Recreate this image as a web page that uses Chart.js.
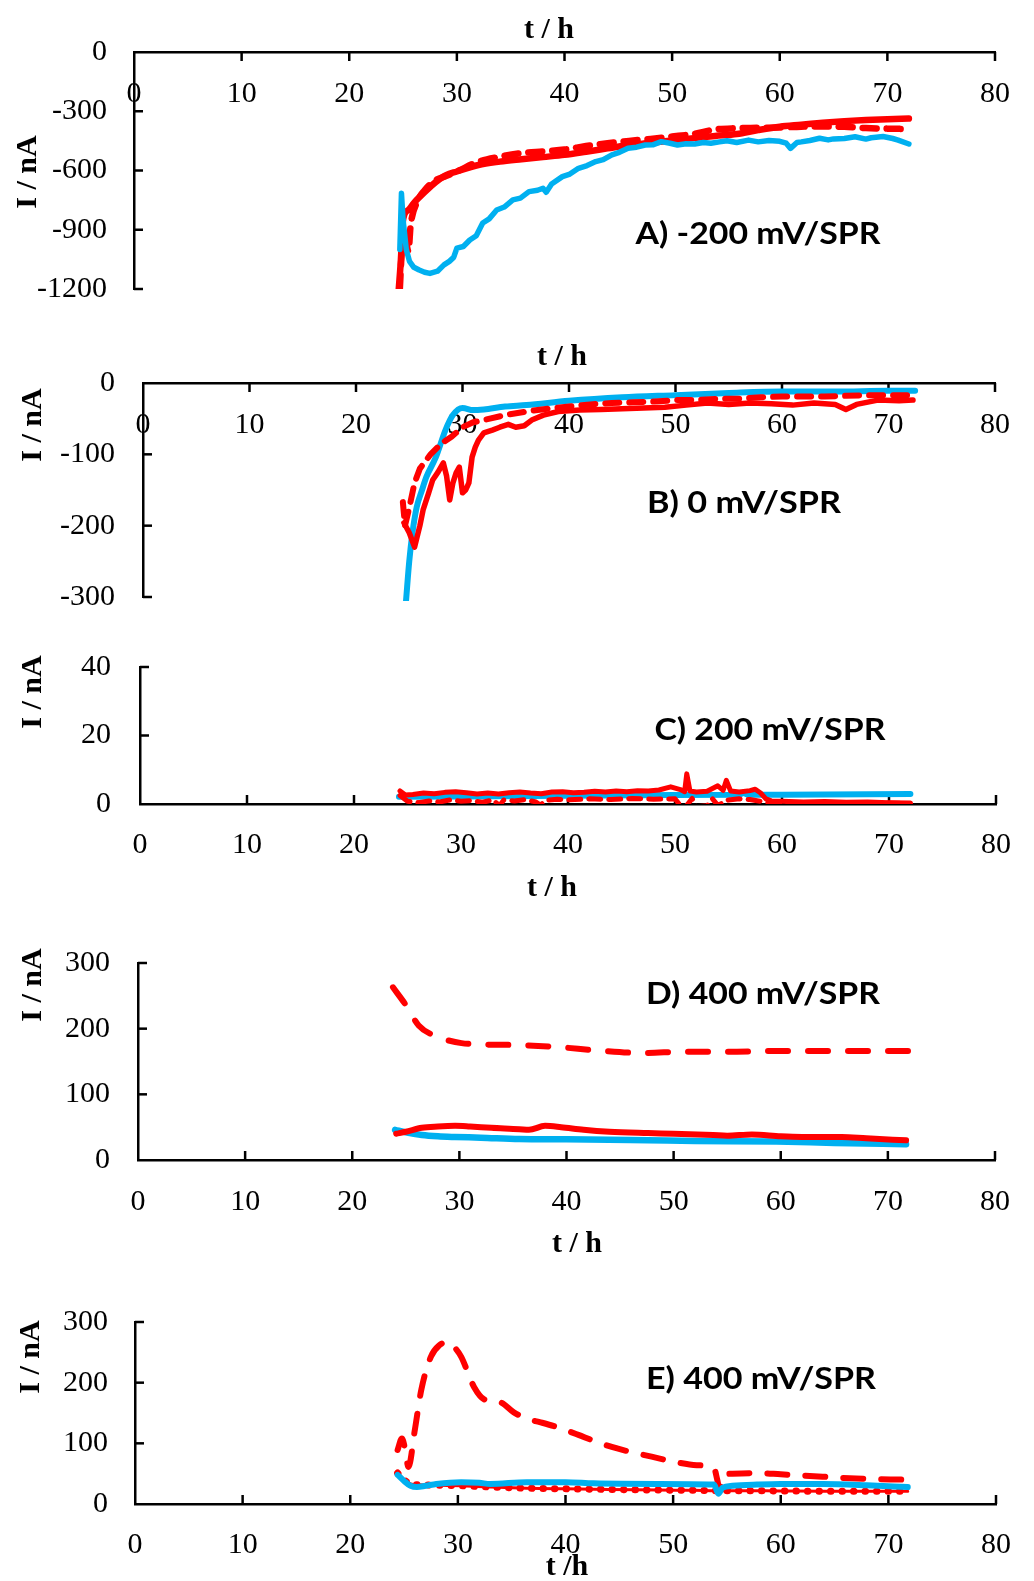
<!DOCTYPE html>
<html><head><meta charset="utf-8">
<script src="https://cdn.jsdelivr.net/npm/chart.js@4.4.1/dist/chart.umd.min.js"></script>
<style>
html,body{margin:0;padding:0;background:#fff;}
body{width:1034px;height:1581px;position:relative;overflow:hidden;}
canvas{position:absolute;left:0;}
</style></head><body>
<canvas id="cA" width="1034" height="345" style="top:0px"></canvas>
<canvas id="cB" width="1034" height="340" style="top:320px"></canvas>
<canvas id="cC" width="1034" height="280" style="top:620px"></canvas>
<canvas id="cD" width="1034" height="360" style="top:900px"></canvas>
<canvas id="cE" width="1034" height="321" style="top:1260px"></canvas>
<script>
// ---------- shared axis ----------
const xTicks = [0, 10, 20, 30, 40, 50, 60, 70, 80];

// ---------- Panel A: -200 mV/SPR ----------
const A_yTicks = [-1200, -900, -600, -300, 0];
const A_redSolid_t = [24.6,24.8,25.0,25.5,26,27,28,29,30,32,34,36,38,40,42,44,46,48,50,52,54,56,58,60,62,64,66,68,70,72];
const A_redSolid_i = [-1200,-1050,-850,-800,-765,-710,-660,-623,-605,-572,-555,-543,-532,-521,-505,-488,-471,-460,-448,-436,-425,-415,-395,-378,-368,-358,-350,-344,-340,-337];
const A_redDash_t = [24.7,24.9,25.2,25.5,25.7,26.3,27,28,29,30,32,34,36,38,40,42,44,46,48,50,52,54,56,58,60,62,64,66,68,70,72];
const A_redDash_i = [-1200,-1000,-950,-1010,-880,-760,-700,-650,-628,-605,-555,-530,-512,-503,-494,-476,-462,-450,-440,-428,-415,-392,-386,-384,-382,-378,-377,-379,-385,-388,-390];
const A_blue_t = [24.7,24.85,25.0,25.3,25.6,26,26.5,27,27.5,28.2,28.8,29.3,29.7,30,30.6,31.2,31.8,32.4,33,33.7,34.4,35.2,35.9,36.7,37.5,38,38.3,38.8,39.8,40.5,41.3,42.1,42.9,43.6,44.4,45.1,45.9,46.7,47.5,48.2,49,49.8,50.5,51.3,52.1,52.9,53.6,54.4,55.1,56,57.1,58,59,60,60.6,61,61.6,62,62.8,63.7,64.5,65,66,67,68,68.5,69.6,70.5,71,72];
const A_blue_i = [-1000,-715,-850,-1000,-1060,-1090,-1104,-1115,-1121,-1110,-1078,-1060,-1040,-993,-985,-952,-930,-866,-845,-800,-785,-749,-740,-707,-700,-690,-710,-668,-631,-618,-589,-575,-555,-545,-521,-508,-487,-482,-471,-470,-454,-462,-471,-465,-466,-458,-462,-455,-449,-458,-446,-455,-448,-452,-462,-488,-458,-455,-448,-437,-445,-440,-438,-429,-441,-434,-428,-438,-446,-466];

// ---------- Panel B: 0 mV/SPR ----------
const B_yTicks = [-300, -200, -100, 0];
const B_redSolid_t = [24.5,25,25.5,26,26.3,26.8,27.2,27.7,28.2,28.5,28.8,29.1,29.4,29.7,30,30.3,30.6,30.9,31.2,31.5,32,32.8,33.5,34.3,35,35.8,36.5,37.6,39,41,43,45,47,49,51,53,55,57,59,61,63,65,66,67,69,71,72.3];
const B_redSolid_i = [-196,-210,-230,-200,-178,-155,-136,-125,-112,-130,-164,-140,-126,-118,-154,-150,-140,-104,-90,-80,-70,-66,-62,-58,-62,-60,-52,-45,-40,-38,-37,-36,-35,-34,-31,-28,-30,-28,-29,-31,-28,-30,-37,-30,-24,-25,-24];
const B_redDash_t = [24.4,24.6,25.0,25.5,26,27,28,29,30,31,32,34,36,38,40,42,44,46,48,50,52,54,56,58,60,62,64,66,68,70,72.3];
const B_redDash_i = [-167,-200,-175,-140,-120,-100,-85,-75,-62,-55,-52,-45,-40,-36,-33,-30,-28,-27,-26,-24,-24,-22,-22,-20,-19,-19,-19,-18,-17,-17,-17];
const B_blue_t = [24.7,25.0,25.3,25.7,26.2,26.6,27.5,28.4,29.1,30,31,32,34,36,40,45,50,55,60,65,70,72.5];
const B_blue_i = [-305,-250,-210,-174,-150,-132,-104,-66,-45,-35,-38,-37,-33,-31,-25,-20,-17,-14,-12,-12,-11,-11];

// ---------- Panel C: 200 mV/SPR ----------
const C_yTicks = [0, 20, 40];
const C_redSolid_t = [24.3,24.8,25.5,26.5,27.5,28.5,29.5,30.5,31.5,32.5,33.5,34.5,35.5,36.5,37.5,38.5,39.5,40.5,41.5,42.5,43.5,44.5,45.5,46.5,47.5,48.5,49.6,50.5,50.9,51.1,51.4,52,53,54,54.5,54.8,55.2,56,57,57.5,58,58.5,59,60,62,64,66,68,70,72];
const C_redSolid_i = [3.8,2.6,2.8,3.2,3.0,3.4,3.6,3.3,2.9,3.2,2.9,3.3,3.5,3.2,3.0,3.5,3.6,3.3,3.4,3.7,3.5,3.8,3.6,3.9,3.8,4.1,5.0,4.2,3.6,8.8,3.8,3.5,3.7,5.3,4.0,6.9,3.8,3.5,3.9,4.3,3.2,1.5,0.9,0.8,0.6,0.7,0.5,0.6,0.4,0.3];
const C_redDash_t = [24.3,25,26,27,28,29,30,31,32,33,33.6,34,35,36,37,37.4,38,39,40,42,44,46,48,50,50.6,51,51.6,52,53,53.5,54,55,56,57,58,59,60,62,64,66,68,70,72];
const C_redDash_i = [2.5,0.8,0.4,0.9,0.6,1.2,0.8,1.0,0.5,1.2,-0.5,1.2,0.9,1.3,0.6,-0.3,1.1,1.4,1.2,1.5,1.3,1.6,1.4,1.5,-0.8,-0.8,1.6,-0.8,-0.5,1.5,-0.4,1.2,1.5,1.3,0.8,0.3,0.5,0.3,0.4,0.2,0.4,0.3,0.1];
const C_blue_t = [24.2,30,40,50,56,56.4,56.8,60,72];
const C_blue_i = [2.1,2.2,2.4,2.6,2.7,3.3,2.7,2.7,2.9];

// ---------- Panel D: 400 mV/SPR ----------
const D_yTicks = [0, 100, 200, 300];
const D_redDash_t = [23.8,25,26.2,27.7,29,30.2,32,35.6,39.2,42.8,47,51.2,55,60,65,70,72];
const D_redDash_i = [263,236,205,189,182,178,176,175,172,167,163,165,165,166,166,166,166];
const D_redSolid_t = [24.1,25,26.5,28,29.6,31,33,35.6,36.5,38,39.5,41.6,44,47.6,50,53.7,55,57.3,60,62,65.7,68,71.7];
const D_redSolid_i = [40,43,49,51,52,51,49,47,46,52,50,46,43,41,40,38,37,39,36,35,35,33,30];
const D_blue_t = [24,25,26.5,28,29.6,32,35.6,40,47.6,52,59.6,65,71.7];
const D_blue_i = [46,42,38,36,35,34,32,31.5,30,29,28,26,24];

// ---------- Panel E: 400 mV/SPR ----------
const E_yTicks = [0, 100, 200, 300];
const E_redDash_t = [24.4,24.8,25.1,25.4,26,26.6,27.5,28.3,29.1,29.7,30.3,31.5,32.5,33.9,35.2,36.5,37.6,39,41.2,42.5,44.3,46,48,50,52.2,53.8,54.1,54.3,54.7,55.5,57.8,60,63.9,67,71.8];
const E_redDash_i = [89,108,90,61,122,188,243,262,267,258,243,193,172,168,151,140,135,128,114,105,94,86,78,70,64,59,40,25,48,50,51,49,45,42,40];
const E_blue_t = [24.4,25,25.6,26.2,27,28,30.3,32,33,36.4,40,42.6,48.6,53.8,54.2,54.6,55.5,57.8,60,63.9,68,71.8];
const E_blue_i = [48,38,30,28,30,33,36,35,33,36,36,34,33,32,17,27,30,32,33,33,31,28];
const E_redDot_t = [24.4,25,25.4,26,28,30.3,33,36.4,40,44,48.6,52,54,56,60,64,68,71.8];
const E_redDot_i = [51,40,35,32,31,30,28,26,25,24,23,22.5,22,22,21.5,21,21,21];

// ---------- styling ----------
const RED = '#FF0000', BLUE = '#00B0F0';
Chart.defaults.font.family = "'Liberation Serif', 'Times New Roman', serif";
Chart.defaults.font.size = 30;
Chart.defaults.color = '#000';

function pts(t, v) { return t.map((x, i) => ({ x: x, y: v[i] })); }
function line(t, v, color, opts) {
  return Object.assign({
    data: pts(t, v), borderColor: color, backgroundColor: color, borderWidth: 6,
    pointRadius: 0, fill: false, tension: 0, borderCapStyle: 'round', borderJoinStyle: 'round'
  }, opts || {});
}

const panelPlugin = {
  id: 'panelDeco',
  beforeDatasetsDraw(chart, args, o) {
    const ctx = chart.ctx, xs = chart.scales.x, ys = chart.scales.y, a = chart.chartArea;
    ctx.save();
    ctx.strokeStyle = '#000'; ctx.lineWidth = 2.5;
    const xAxisY = o.xTop ? a.top : a.bottom;
    const dir = o.xTop ? 1 : -1;
    xs.ticks.forEach(tk => {
      if (tk.value === 0) return;
      const px = xs.getPixelForValue(tk.value);
      ctx.beginPath(); ctx.moveTo(px, xAxisY); ctx.lineTo(px, xAxisY + dir * 9); ctx.stroke();
    });
    ys.ticks.forEach(tk => {
      const py = ys.getPixelForValue(tk.value);
      if (Math.abs(py - xAxisY) < 1) return;
      ctx.beginPath(); ctx.moveTo(a.left, py); ctx.lineTo(a.left + 9, py); ctx.stroke();
    });
    ctx.restore();
  },
  afterDraw(chart, args, o) {
    const ctx = chart.ctx, off = o.top;
    ctx.save();
    ctx.fillStyle = '#000';
    ctx.font = "bold 30px 'Liberation Serif', serif";
    ctx.textAlign = 'center'; ctx.textBaseline = 'middle';
    ctx.fillText(o.xTitle, o.xTitlePos[0], o.xTitlePos[1] - off);
    ctx.save();
    ctx.translate(o.yTitlePos[0], o.yTitlePos[1] - off);
    ctx.rotate(-Math.PI / 2);
    ctx.fillText('I / nA', 0, 0);
    ctx.restore();
    ctx.font = "bold 31px Lato, 'Open Sans', sans-serif";
    const w = ctx.measureText(o.label).width;
    ctx.save();
    ctx.translate(o.labelPos[0], o.labelPos[1] - off);
    ctx.scale(o.labelW / w, 1);
    ctx.fillText(o.label, 0, 0);
    ctx.restore();
    ctx.restore();
  }
};

function makePanel(p) {
  const canvas = document.getElementById(p.id);
  const H = canvas.height;
  const xAxisH = p.xTop ? (p.area.t - p.top) : (p.top + H - p.area.b);
  new Chart(canvas, {
    type: 'line',
    data: { datasets: p.datasets },
    options: {
      responsive: false, animation: false, devicePixelRatio: 1,
      layout: { padding: {
        left: 0, right: 1034 - p.area.r,
        top: p.xTop ? 0 : (p.area.t - p.top),
        bottom: p.xTop ? (p.top + H - p.area.b) : 0 } },
      plugins: { legend: { display: false }, tooltip: { enabled: false },
        panelDeco: { top: p.top, xTop: p.xTop, xTitle: p.xTitle, xTitlePos: p.xTitlePos,
          yTitlePos: p.yTitlePos, label: p.label, labelPos: p.labelPos, labelW: p.labelW } },
      scales: {
        x: {
          type: 'linear', position: p.xTop ? 'top' : 'bottom', min: 0, max: 80,
          afterBuildTicks: s => { s.ticks = xTicks.map(v => ({ value: v })); },
          afterFit: s => { s.height = xAxisH; },
          grid: { display: false, drawTicks: false },
          border: { display: true, color: '#000', width: 2.5 },
          ticks: { mirror: !!p.xTop, padding: p.xPad, maxRotation: 0, autoSkip: false,
            callback: v => String(v) }
        },
        y: {
          type: 'linear', position: 'left', min: p.yTicks[0], max: p.yTicks[p.yTicks.length - 1],
          afterBuildTicks: s => { s.ticks = p.yTicks.map(v => ({ value: v })); },
          afterFit: s => { s.width = p.area.l; },
          grid: { display: false, drawTicks: false },
          border: { display: true, color: '#000', width: 2.5 },
          ticks: { padding: p.yPad, autoSkip: false, callback: v => String(v) }
        }
      }
    },
    plugins: [panelPlugin]
  });
}

makePanel({
  id: 'cA', top: 0, xTop: true, area: { l: 134, r: 1004, t: 52, b: 289 },
  yTicks: A_yTicks, xPad: 24, yPad: 27,
  xTitle: 't / h', xTitlePos: [549, 30], yTitlePos: [28, 172],
  label: 'A) -200 mV/SPR', labelPos: [758, 234], labelW: 245,
  datasets: [
    line(A_blue_t, A_blue_i, BLUE, { borderWidth: 5.5 }),
    line(A_redDash_t, A_redDash_i, RED, { borderWidth: 6.5, borderDash: [14, 10], tension: 0.3, cubicInterpolationMode: 'monotone' }),
    line(A_redSolid_t, A_redSolid_i, RED, { borderWidth: 6.5, tension: 0.3, cubicInterpolationMode: 'monotone' })
  ]
});

makePanel({
  id: 'cB', top: 320, xTop: true, area: { l: 143, r: 1015, t: 383, b: 597 },
  yTicks: B_yTicks, xPad: 24, yPad: 28,
  xTitle: 't / h', xTitlePos: [562, 357], yTitlePos: [33, 425],
  label: 'B) 0 mV/SPR', labelPos: [744, 503], labelW: 194,
  datasets: [
    line(B_redDash_t, B_redDash_i, RED, { borderDash: [14, 10] }),
    line(B_redSolid_t, B_redSolid_i, RED, { borderWidth: 5.5 }),
    line(B_blue_t, B_blue_i, BLUE, { borderWidth: 6, tension: 0.3, cubicInterpolationMode: 'monotone', clip: 4 })
  ]
});

makePanel({
  id: 'cC', top: 620, xTop: false, area: { l: 140, r: 1014, t: 664, b: 804 },
  yTicks: C_yTicks, xPad: 23, yPad: 29,
  xTitle: 't / h', xTitlePos: [552, 888], yTitlePos: [33, 692],
  label: 'C) 200 mV/SPR', labelPos: [770, 730], labelW: 231,
  datasets: [
    line(C_redDash_t, C_redDash_i, RED, { borderDash: [12, 8], borderWidth: 5 }),
    line(C_redSolid_t, C_redSolid_i, RED, { borderWidth: 5 }),
    line(C_blue_t, C_blue_i, BLUE, { borderWidth: 6 })
  ]
});

makePanel({
  id: 'cD', top: 900, xTop: false, area: { l: 138, r: 1014, t: 963, b: 1160 },
  yTicks: D_yTicks, xPad: 24, yPad: 28,
  xTitle: 't / h', xTitlePos: [577, 1244], yTitlePos: [33, 985],
  label: 'D) 400 mV/SPR', labelPos: [763, 994], labelW: 234,
  datasets: [
    line(D_redDash_t, D_redDash_i, RED, { borderDash: [20, 20], tension: 0.3, cubicInterpolationMode: 'monotone' }),
    line(D_redSolid_t, D_redSolid_i, RED, { tension: 0.3, cubicInterpolationMode: 'monotone' }),
    line(D_blue_t, D_blue_i, BLUE, { borderWidth: 6.5, tension: 0.3, cubicInterpolationMode: 'monotone' })
  ]
});

makePanel({
  id: 'cE', top: 1260, xTop: false, area: { l: 135, r: 999, t: 1322, b: 1504 },
  yTicks: E_yTicks, xPad: 23, yPad: 27,
  xTitle: 't /h', xTitlePos: [567, 1567], yTitlePos: [31, 1357],
  label: 'E) 400 mV/SPR', labelPos: [761, 1379], labelW: 230,
  datasets: [
    line(E_blue_t, E_blue_i, BLUE, { borderWidth: 6, tension: 0.3, cubicInterpolationMode: 'monotone' }),
    line(E_redDash_t, E_redDash_i, RED, { borderDash: [20, 18], tension: 0.3, cubicInterpolationMode: 'monotone' }),
    line(E_redDot_t, E_redDot_i, RED, { borderWidth: 3, tension: 0.3, cubicInterpolationMode: 'monotone' }),
    line(E_redDot_t, E_redDot_i, RED, { borderWidth: 7, borderDash: [0.5, 11], tension: 0.3, cubicInterpolationMode: 'monotone' })
  ]
});
</script>
</body></html>
